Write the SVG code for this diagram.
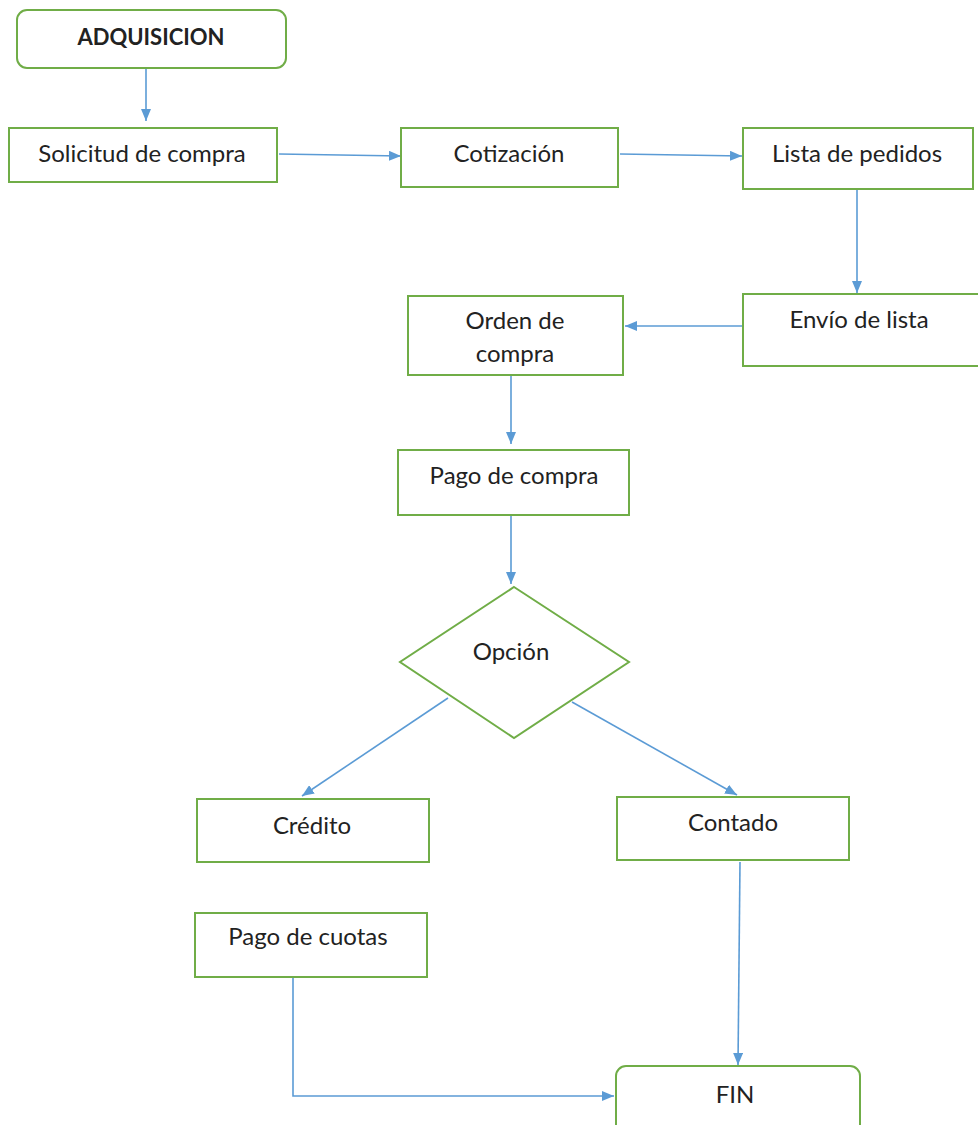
<svg xmlns="http://www.w3.org/2000/svg" width="978" height="1125" viewBox="0 0 978 1125">
<style>
.box{fill:#fff;stroke:#70ad47;stroke-width:2}
.lbl{font-family:Lato,"Liberation Sans",sans-serif;font-size:24px;fill:#222;text-anchor:middle}
.bold{font-weight:bold;font-size:22px}
.con{fill:none;stroke:#5b9bd5;stroke-width:1.6}
</style>
<defs>
<marker id="ah" viewBox="0 0 12 10" refX="12" refY="5" markerWidth="12" markerHeight="10" markerUnits="userSpaceOnUse" orient="auto">
<path d="M0,0 L12,5 L0,10 z" fill="#5b9bd5"/>
</marker>
</defs>
<rect width="978" height="1125" fill="#fff"/>
<g id="connectors">
<path class="con" d="M146,68 V121" marker-end="url(#ah)"/>
<path class="con" d="M279,154 L401,156" marker-end="url(#ah)"/>
<path class="con" d="M620,154 L742,156" marker-end="url(#ah)"/>
<path class="con" d="M857,189 V293" marker-end="url(#ah)"/>
<path class="con" d="M743,326 H625" marker-end="url(#ah)"/>
<path class="con" d="M511,375 V444" marker-end="url(#ah)"/>
<path class="con" d="M511,515 V584" marker-end="url(#ah)"/>
<path class="con" d="M448,698 L302,796" marker-end="url(#ah)"/>
<path class="con" d="M572,702 L737,795" marker-end="url(#ah)"/>
<path class="con" d="M740,862 L738,1065" marker-end="url(#ah)"/>
<path class="con" d="M293,977 V1096 H614" marker-end="url(#ah)"/>
</g>
<g id="n-adquisicion">
<rect class="box" x="17" y="10" width="269" height="58" rx="10"/>
<text class="lbl bold" x="151" y="45">ADQUISICION</text>
</g>
<g id="n-solicitud">
<rect class="box" x="9" y="128" width="268" height="54"/>
<text class="lbl" x="142" y="162">Solicitud de compra</text>
</g>
<g id="n-cotizacion">
<rect class="box" x="401" y="128" width="217" height="59"/>
<text class="lbl" x="509" y="162">Cotización</text>
</g>
<g id="n-lista">
<rect class="box" x="743" y="128" width="230" height="61"/>
<text class="lbl" x="857" y="162">Lista de pedidos</text>
</g>
<g id="n-envio">
<rect class="box" x="743" y="294" width="240" height="72"/>
<text class="lbl" x="859" y="328">Envío de lista</text>
</g>
<g id="n-orden">
<rect class="box" x="408" y="296" width="215" height="79"/>
<text class="lbl" x="515" y="329">Orden de</text>
<text class="lbl" x="515" y="362">compra</text>
</g>
<g id="n-pago-compra">
<rect class="box" x="398" y="450" width="231" height="65"/>
<text class="lbl" x="514" y="484">Pago de compra</text>
</g>
<g id="n-opcion">
<polygon class="box" points="514,587 629,662 514,738 400,662"/>
<text class="lbl" x="511" y="660">Opción</text>
</g>
<g id="n-credito">
<rect class="box" x="197" y="799" width="232" height="63"/>
<text class="lbl" x="312" y="834">Crédito</text>
</g>
<g id="n-contado">
<rect class="box" x="617" y="797" width="232" height="63"/>
<text class="lbl" x="733" y="831">Contado</text>
</g>
<g id="n-cuotas">
<rect class="box" x="195" y="913" width="232" height="64"/>
<text class="lbl" x="308" y="945">Pago de cuotas</text>
</g>
<g id="n-fin">
<rect class="box" x="616" y="1066" width="244" height="70" rx="10"/>
<text class="lbl" x="735" y="1103">FIN</text>
</g>
</svg>
